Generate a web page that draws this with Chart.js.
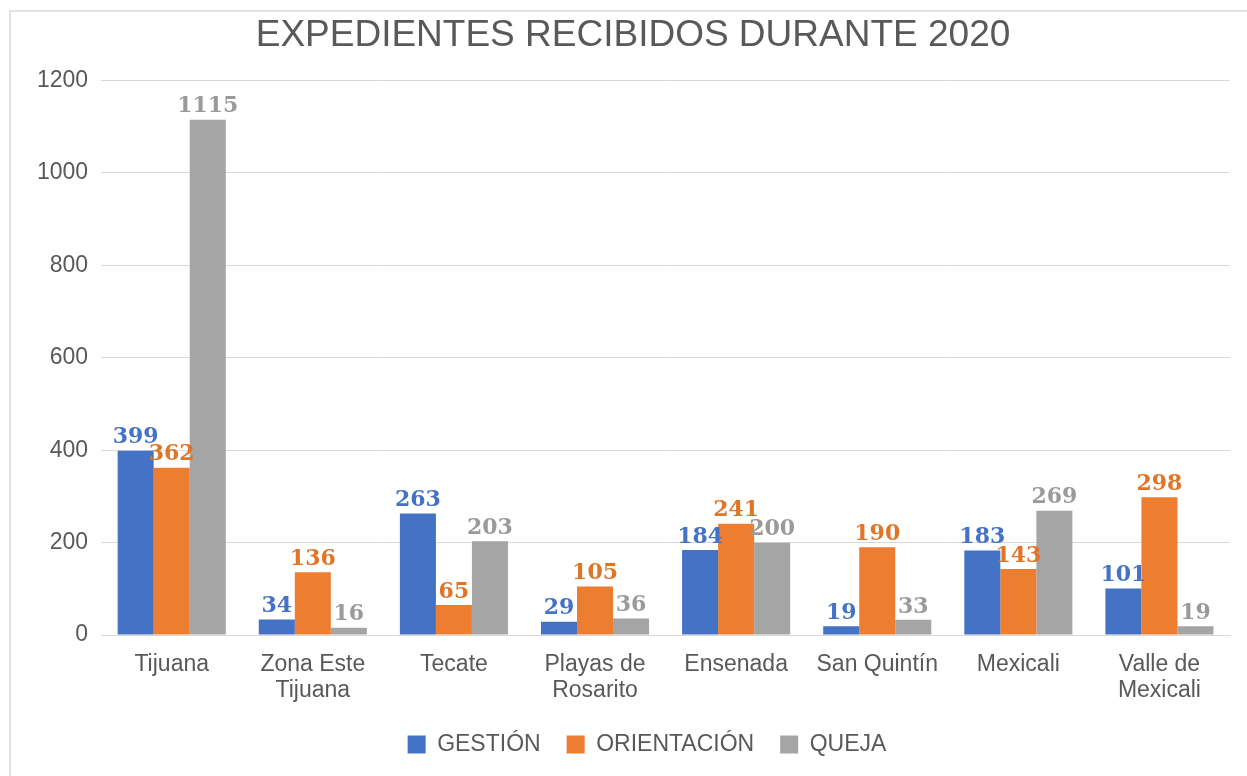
<!DOCTYPE html>
<html>
<head>
<meta charset="utf-8">
<script src="https://cdn.jsdelivr.net/npm/chart.js@4.4.0/dist/chart.umd.min.js"></script>
<style>
  html, body { margin: 0; padding: 0; background: #ffffff; }
  #wrap { width: 1247px; height: 776px; position: relative; }
</style>
</head>
<body>
<div id="wrap"><canvas id="c" width="1247" height="776"></canvas></div>
<script>
const categories = [
  "Tijuana",
  ["Zona Este", "Tijuana"],
  "Tecate",
  ["Playas de", "Rosarito"],
  "Ensenada",
  "San Quintín",
  "Mexicali",
  ["Valle de", "Mexicali"]
];
const gestion = [399, 34, 263, 29, 184, 19, 183, 101];
const orientacion = [362, 136, 65, 105, 241, 190, 143, 298];
const queja = [1115, 16, 203, 36, 200, 33, 269, 19];
const yTicks = [0, 200, 400, 600, 800, 1000, 1200];

const seriesNames = ["GESTIÓN", "ORIENTACIÓN", "QUEJA"];
const seriesColors = ["#4472C4", "#ED7D31", "#A5A5A5"];
const labelColors = ["#4472C4", "#E07427", "#9A9A9A"];

const borderPlugin = {
  id: 'frame',
  afterLayout(chart) {
    if (chart.legend) { chart.legend.left += 20; chart.legend.right += 20; }
    if (chart.titleBlock) { chart.titleBlock.left += 6; chart.titleBlock.right += 6; }
  },
  beforeDraw(chart) {
    const ctx = chart.ctx;
    ctx.save();
    ctx.fillStyle = '#ffffff';
    ctx.fillRect(0, 0, chart.width, chart.height);
    ctx.strokeStyle = '#e3e3e3';
    ctx.lineWidth = 2;
    ctx.beginPath();
    ctx.moveTo(10, chart.height + 2);
    ctx.lineTo(10, 11);
    ctx.lineTo(chart.width + 2, 11);
    ctx.stroke();
    ctx.restore();
  }
};

const valueLabels = {
  id: 'valueLabels',
  afterDatasetsDraw(chart) {
    const ctx = chart.ctx;
    ctx.save();
    ctx.font = 'bold 22px "DejaVu Serif"';
    ctx.textAlign = 'center';
    ctx.textBaseline = 'bottom';
    chart.data.datasets.forEach((ds, i) => {
      const meta = chart.getDatasetMeta(i);
      ctx.fillStyle = labelColors[i];
      meta.data.forEach((bar, j) => {
        ctx.fillText(String(ds.data[j]), bar.x, bar.y - 2);
      });
    });
    ctx.restore();
  }
};

new Chart(document.getElementById('c'), {
  type: 'bar',
  data: {
    labels: categories,
    datasets: [
      { label: seriesNames[0], data: gestion, backgroundColor: seriesColors[0] },
      { label: seriesNames[1], data: orientacion, backgroundColor: seriesColors[1] },
      { label: seriesNames[2], data: queja, backgroundColor: seriesColors[2] }
    ]
  },
  options: {
    responsive: false,
    animation: false,
    devicePixelRatio: 1,
    layout: { padding: { left: 24, right: 17, top: 0, bottom: 10 } },
    datasets: { bar: { categoryPercentage: 0.766, barPercentage: 1.0 } },
    plugins: {
      title: {
        display: true,
        text: 'EXPEDIENTES RECIBIDOS DURANTE 2020',
        color: '#595959',
        font: { family: '"Liberation Sans", Arial, sans-serif', size: 37, weight: 'normal' },
        padding: { top: 14, bottom: 22 }
      },
      legend: {
        position: 'bottom',
        labels: {
          color: '#595959',
          font: { family: '"Liberation Sans", Arial, sans-serif', size: 23 },
          boxWidth: 18,
          boxHeight: 18,
          padding: 26
        }
      },
      tooltip: { enabled: false }
    },
    scales: {
      x: {
        grid: { display: false, drawTicks: false },
        border: { display: true, color: '#d9d9d9', width: 1 },
        afterFit(axis) { axis.height = axis.height - 13; },
        ticks: {
          color: '#595959',
          font: { family: '"Liberation Sans", Arial, sans-serif', size: 23, lineHeight: 1.15 },
          padding: 16,
          maxRotation: 0,
          autoSkip: false
        }
      },
      y: {
        min: 0,
        max: 1200,
        afterBuildTicks(axis) { axis.ticks = yTicks.map(v => ({ value: v })); },
        grid: { color: '#d9d9d9', lineWidth: 1, drawTicks: false },
        border: { display: false },
        ticks: {
          color: '#595959',
          font: { family: '"Liberation Sans", Arial, sans-serif', size: 23 },
          padding: 13,
          callback: (v) => String(v)
        }
      }
    }
  },
  plugins: [borderPlugin, valueLabels]
});
</script>
</body>
</html>
